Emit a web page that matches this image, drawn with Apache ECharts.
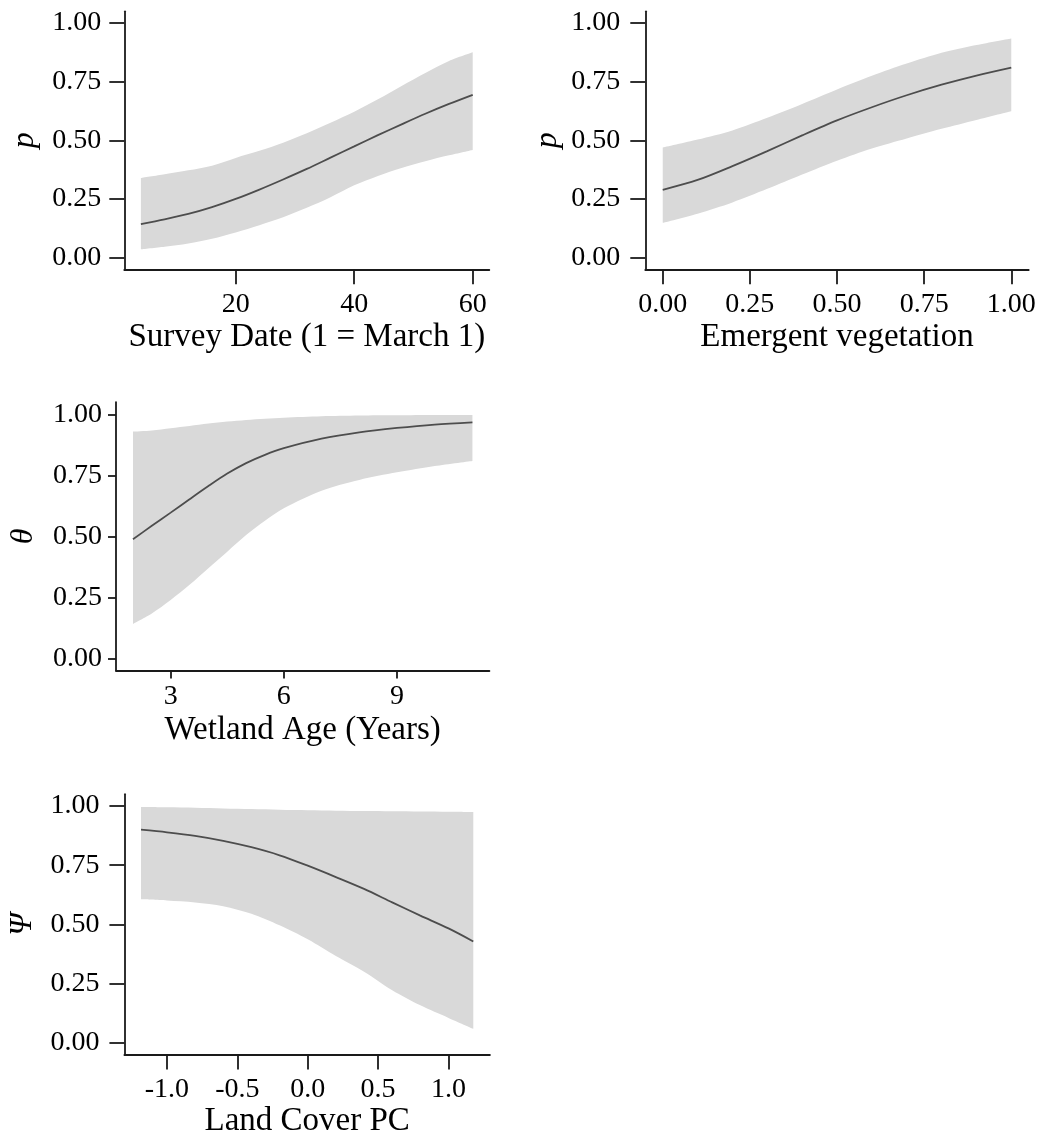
<!DOCTYPE html>
<html>
<head>
<meta charset="utf-8">
<script src="https://cdn.jsdelivr.net/npm/echarts@6/dist/echarts.min.js"></script>
<style>
    html, body { margin: 0; padding: 0; background: #fff; }
    #chart { width: 1050px; height: 1138px; }
</style>
</head>
<body>
<div id="chart"></div>
<script>
// 调查日期 -> 检测概率 p
var dateX = [4, 8, 12, 16, 20, 24, 28, 32, 36, 40, 44, 48, 52, 56, 60];
var dateMean = [0.143, 0.163, 0.186, 0.215, 0.250, 0.290, 0.333, 0.378, 0.426, 0.474, 0.522, 0.568, 0.613, 0.655, 0.694];
var dateLow = [0.035, 0.046, 0.060, 0.080, 0.107, 0.138, 0.172, 0.212, 0.257, 0.308, 0.348, 0.382, 0.411, 0.436, 0.459];
var dateHigh = [0.339, 0.355, 0.372, 0.392, 0.425, 0.455, 0.490, 0.530, 0.575, 0.622, 0.675, 0.732, 0.787, 0.838, 0.875];
var dateTicks = [20, 40, 60];

// 挺水植被 -> p
var vegX = [0, 0.1, 0.2, 0.3, 0.4, 0.5, 0.6, 0.7, 0.8, 0.9, 1.0];
var vegMean = [0.289, 0.331, 0.390, 0.454, 0.521, 0.585, 0.641, 0.692, 0.737, 0.776, 0.810];
var vegLow = [0.148, 0.187, 0.235, 0.293, 0.354, 0.413, 0.465, 0.508, 0.549, 0.587, 0.624];
var vegHigh = [0.469, 0.503, 0.542, 0.596, 0.655, 0.717, 0.775, 0.827, 0.873, 0.906, 0.934];
var vegTicks = [0, 0.25, 0.5, 0.75, 1.0];

// 湿地年龄 -> theta
var ageX = [2, 2.5, 3, 3.5, 4, 4.5, 5, 5.5, 6, 7, 8, 9, 10, 11];
var ageMean = [0.488, 0.543, 0.597, 0.652, 0.706, 0.757, 0.800, 0.834, 0.861, 0.900, 0.926, 0.944, 0.958, 0.967];
var ageLow = [0.141, 0.184, 0.239, 0.301, 0.369, 0.437, 0.505, 0.564, 0.615, 0.687, 0.731, 0.762, 0.788, 0.809];
var ageHigh = [0.929, 0.934, 0.943, 0.952, 0.962, 0.970, 0.977, 0.982, 0.986, 0.992, 0.995, 0.996, 0.997, 0.997];
var ageTicks = [3, 6, 9];

// 土地覆盖主成分 -> psi
var pcX = [-1.184, -1.0, -0.8, -0.6, -0.4, -0.2, 0, 0.2, 0.4, 0.6, 0.8, 1.0, 1.176];
var pcMean = [0.900, 0.889, 0.874, 0.853, 0.826, 0.792, 0.748, 0.700, 0.650, 0.593, 0.537, 0.483, 0.428];
var pcLow = [0.606, 0.601, 0.593, 0.577, 0.545, 0.496, 0.437, 0.366, 0.300, 0.222, 0.158, 0.105, 0.059];
var pcHigh = [0.996, 0.995, 0.993, 0.990, 0.987, 0.984, 0.982, 0.980, 0.979, 0.978, 0.977, 0.976, 0.975];
var pcTicks = [-1.0, -0.5, 0, 0.5, 1.0];

var probTicks = [0, 0.25, 0.5, 0.75, 1.0];

var FONT = "'Liberation Serif', 'Times New Roman', serif";
var AXIS_COLOR = '#1a1a1a';

var myChart = echarts.init(document.getElementById('chart'));

var grids = [
    { left: 124.3, top: 11.3, width: 365, height: 258 },
    { left: 645.3, top: 11.3, width: 383.4, height: 258 },
    { left: 116, top: 402.1, width: 373.4, height: 268.4 },
    { left: 124.4, top: 794.2, width: 365.5, height: 260.4 }
];
grids.forEach(function(g) { g.outerBoundsMode = 'none'; g.containLabel = false; });

function xAxis(idx, min, max, ticks, digits, name, tickLen, margin, gap) {
    return {
        type: 'value', gridIndex: idx, min: min, max: max,
        name: name, nameLocation: 'middle', nameGap: gap,
        nameTextStyle: { fontFamily: FONT, fontSize: 33, color: '#000' },
        axisLine: { show: true, onZero: false, lineStyle: { color: AXIS_COLOR, width: 1.8 } },
        axisTick: { show: true, length: tickLen, customValues: ticks, lineStyle: { color: AXIS_COLOR, width: 1.8 } },
        axisLabel: {
            customValues: ticks, margin: margin,
            fontFamily: FONT, fontSize: 28, color: '#000',
            formatter: function(v) { return digits == null ? String(v) : Number(v).toFixed(digits); }
        },
        splitLine: { show: false }
    };
}
function yAxis(idx, name, tickLen, margin, gap) {
    return {
        type: 'value', gridIndex: idx, min: -0.05, max: 1.05,
        name: name, nameLocation: 'middle', nameGap: gap,
        nameTextStyle: { fontFamily: FONT, fontSize: 32, fontStyle: 'italic', color: '#000' },
        axisLine: { show: true, onZero: false, lineStyle: { color: AXIS_COLOR, width: 1.8 } },
        axisTick: { show: true, length: tickLen, customValues: probTicks, lineStyle: { color: AXIS_COLOR, width: 1.8 } },
        axisLabel: {
            customValues: probTicks, margin: margin,
            fontFamily: FONT, fontSize: 28, color: '#000',
            formatter: function(v) { return Number(v).toFixed(2); }
        },
        splitLine: { show: false }
    };
}

var panels = [
    { x: dateX, mean: dateMean, low: dateLow, high: dateHigh },
    { x: vegX, mean: vegMean, low: vegLow, high: vegHigh },
    { x: ageX, mean: ageMean, low: ageLow, high: ageHigh },
    { x: pcX, mean: pcMean, low: pcLow, high: pcHigh }
];

var series = [];
panels.forEach(function(p, i) {
    // 置信带：下界 + (上界 - 下界) 堆叠；数值维放在第 0 维，堆叠才作用在 y 上
    series.push({
        type: 'line', xAxisIndex: i, yAxisIndex: i, stack: 'ci' + i,
        data: p.x.map(function(x, k) { return [p.low[k], x]; }),
        encode: { x: 1, y: 0 },
        symbol: 'none', smooth: 0.3, silent: true,
        lineStyle: { opacity: 0 }
    });
    series.push({
        type: 'line', xAxisIndex: i, yAxisIndex: i, stack: 'ci' + i,
        data: p.x.map(function(x, k) { return [+(p.high[k] - p.low[k]).toFixed(4), x]; }),
        encode: { x: 1, y: 0 },
        symbol: 'none', smooth: 0.3, silent: true,
        lineStyle: { opacity: 0 },
        areaStyle: { color: '#d9d9d9', opacity: 1 }
    });
    series.push({
        type: 'line', xAxisIndex: i, yAxisIndex: i,
        data: p.x.map(function(x, k) { return [x, p.mean[k]]; }),
        symbol: 'none', smooth: 0.3,
        lineStyle: { color: '#4d4d4d', width: 1.8 }
    });
});

myChart.setOption({
    animation: false,
    backgroundColor: '#fff',
    grid: grids,
    xAxis: [
        xAxis(0, 1.2, 62.8, dateTicks, null, 'Survey Date (1 = March 1)', 15, 21, 52),
        xAxis(1, -0.05, 1.05, vegTicks, 2, 'Emergent vegetation', 15, 21, 52),
        xAxis(2, 1.55, 11.45, ageTicks, null, 'Wetland Age (Years)', 8, 12, 43),
        xAxis(3, -1.302, 1.294, pcTicks, 1, 'Land Cover PC', 15, 21, 46)
    ],
    yAxis: [
        yAxis(0, 'p', 15, 23, 84),
        yAxis(1, 'p', 15, 25, 82),
        yAxis(2, '\u03b8', 8, 14, 76),
        yAxis(3, '\u03a8', 15, 25, 86)
    ],
    series: series
});
</script>
</body>
</html>
